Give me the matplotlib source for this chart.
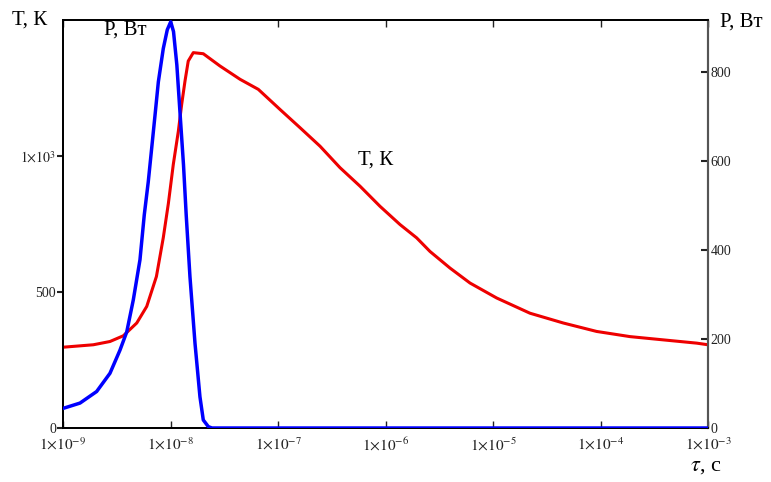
import numpy as np
import matplotlib
matplotlib.use("Agg")
import matplotlib.pyplot as plt

plt.rcParams['mathtext.fontset'] = 'stix'
plt.rcParams['font.family'] = ['Liberation Serif', 'DejaVu Serif']

# Temperature T (left axis) vs log10(tau)
lg_tau_T = [-9.0, -8.718, -8.563, -8.439, -8.314, -8.221, -8.131, -8.067, -8.020,
            -7.974, -7.927, -7.896, -7.865, -7.835, -7.788, -7.695, -7.540, -7.353,
            -7.183, -6.981, -6.795, -6.609, -6.423, -6.237, -6.051, -5.865, -5.710,
            -5.586, -5.400, -5.214, -4.966, -4.656, -4.346, -4.036, -3.726, -3.416,
            -3.105, -3.0]
T_vals = [297, 306, 318, 339, 386, 447, 557, 700, 825,
          969, 1091, 1190, 1276, 1349, 1380, 1376, 1331, 1282,
          1245, 1171, 1104, 1036, 957, 889, 815, 748, 699,
          649, 588, 533, 478, 422, 386, 355, 336, 324,
          312, 306]

# Power P (right axis) vs log10(tau)
lg_tau_P = [-9.0, -8.842, -8.687, -8.563, -8.470, -8.407, -8.346, -8.284, -8.244,
            -8.207, -8.175, -8.144, -8.113, -8.067, -8.030, -7.998, -7.972, -7.941,
            -7.910, -7.879, -7.854, -7.819, -7.772, -7.726, -7.695, -7.648, -7.614,
            -3.0]
P_vals = [44, 56, 82, 123, 175, 216, 288, 378, 479,
          553, 629, 703, 778, 853, 895, 913, 891, 816,
          703, 591, 479, 340, 190, 70, 18, 3, 0,
          0]

x_ticks = [1e-9, 1e-8, 1e-7, 1e-6, 1e-5, 1e-4, 1e-3]
x_tick_labels = [r'$1{\times}10^{-9}$', r'$1{\times}10^{-8}$', r'$1{\times}10^{-7}$',
                 r'$1{\times}10^{-6}$', r'$1{\times}10^{-5}$', r'$1{\times}10^{-4}$',
                 r'$1{\times}10^{-3}$']
T_ticks = [0, 500, 1000]
T_tick_labels = ['0', '500', r'$1{\times}10^{3}$']
P_ticks = [0, 200, 400, 600, 800]
P_tick_labels = ['0', '200', '400', '600', '800']

tau_T = 10.0 ** np.array(lg_tau_T)
tau_P = 10.0 ** np.array(lg_tau_P)

fig = plt.figure(figsize=(7.71, 4.82), dpi=100)
ax = fig.add_axes([63/771, 54/482, 645/771, 408/482])
ax2 = ax.twinx()

ax.plot(tau_T, T_vals, color='#ee0000', lw=2.2, zorder=3)
ax2.plot(tau_P, P_vals, color='#0000ff', lw=2.5, zorder=3)

ax.set_xscale('log')
ax.set_xlim(1e-9, 1e-3)
ax.set_ylim(0, 1500)
ax2.set_ylim(0, 917)

ax.set_xticks(x_ticks)
ax.set_xticklabels(x_tick_labels, fontsize=11)
ax.xaxis.set_minor_locator(matplotlib.ticker.NullLocator())
ax.tick_params(axis='x', direction='in', length=5, width=1, top=True, pad=6, colors='#222')
ax.set_yticks(T_ticks)
ax.set_yticklabels(T_tick_labels, fontsize=10)
ax.tick_params(axis='y', direction='out', length=4, width=1.5, pad=1, colors='#222')

ax2.set_yticks(P_ticks)
ax2.set_yticklabels(P_tick_labels, fontsize=10)
ax2.tick_params(axis='y', direction='in', length=5, width=1.5, pad=2, colors='#222')

for a in (ax, ax2):
    for s in ['left', 'bottom', 'top']:
        a.spines[s].set_color('black')
        a.spines[s].set_linewidth(1.3)
    a.spines['right'].set_color('#555555')
    a.spines['right'].set_linewidth(1.5)

fig.text(12/771, 1 - 20/482, 'Т, К', fontsize=15, ha='left', va='center')
fig.text(104/771, 1 - 30/482, 'Р, Вт', fontsize=15, ha='left', va='center')
fig.text(358/771, 1 - 160/482, 'Т, К', fontsize=15, ha='left', va='center')
fig.text(720/771, 1 - 22/482, 'Р, Вт', fontsize=15, ha='left', va='center')
fig.text(690/771, 1 - 466/482, r'$\tau$, с', fontsize=16, ha='left', va='center')

fig.savefig('out.png', dpi=100)
